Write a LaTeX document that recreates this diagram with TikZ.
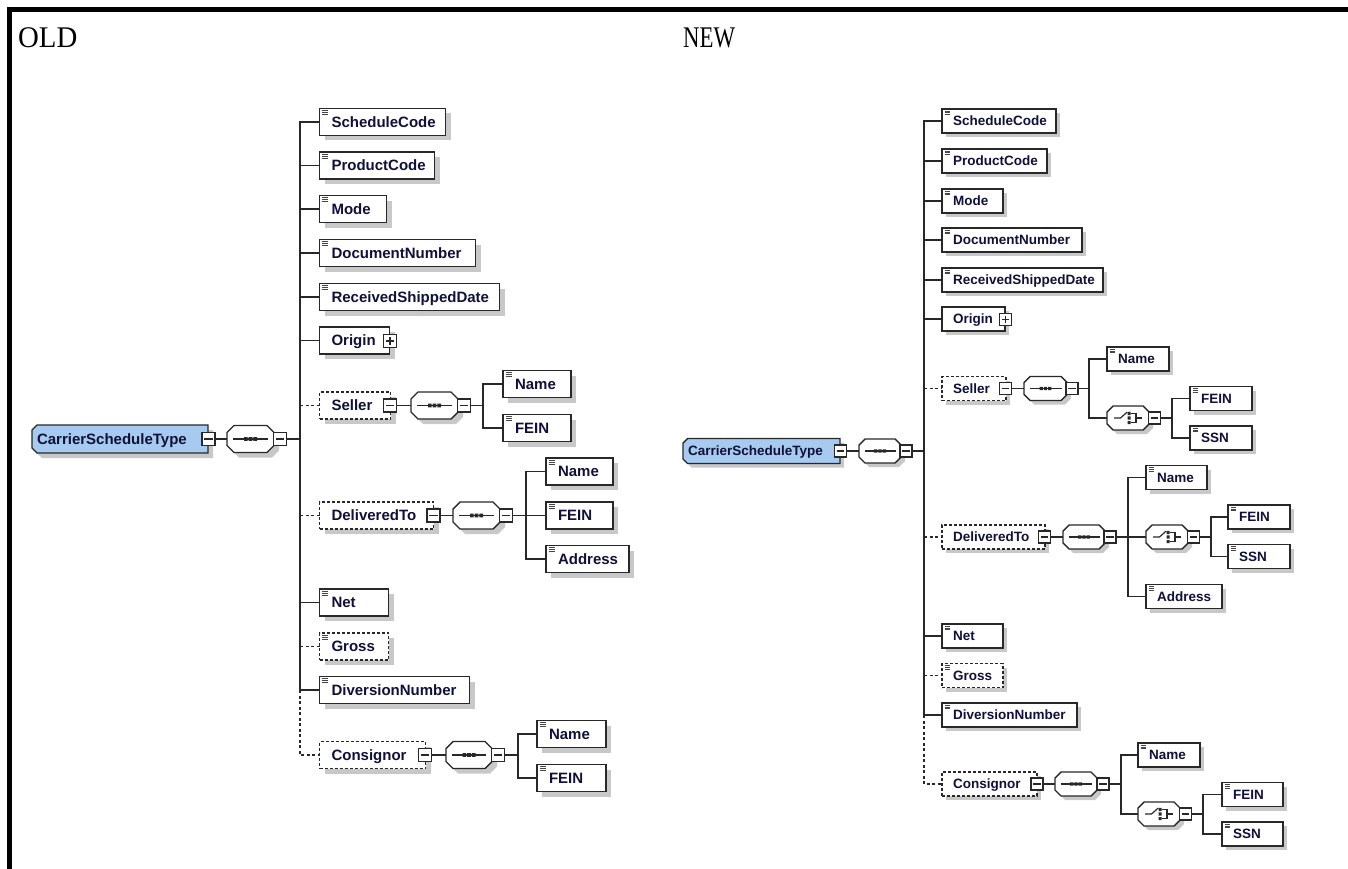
\documentclass[tikz,border=0pt]{standalone}
\usepackage{fontspec}
\newfontfamily\elfont{Liberation Sans}
\newfontfamily\ttlfont{Liberation Serif}
\usetikzlibrary{shadows}
\definecolor{rootblue}{RGB}{166,202,240}
\definecolor{shadowc}{RGB}{200,200,200}
\definecolor{linec}{RGB}{40,40,40}
\definecolor{iconc}{RGB}{70,70,70}
\definecolor{textc}{RGB}{16,16,56}
\tikzset{
 boxln/.style={draw=linec, line width=1.4pt},
 elO/.style={boxln, fill=white, anchor=west, inner sep=0pt, outer sep=0pt, minimum height=27pt,
   drop shadow={shadow xshift=5pt, shadow yshift=-5pt, fill=shadowc, opacity=1}},
 elN/.style={boxln, fill=white, anchor=west, inner sep=0pt, outer sep=0pt, minimum height=24pt,
   drop shadow={shadow xshift=4pt, shadow yshift=-4pt, fill=shadowc, opacity=1}},
 octO/.style={anchor=west, inner sep=0pt, outer sep=0pt, minimum height=27pt},
 octN/.style={anchor=west, inner sep=0pt, outer sep=0pt, minimum height=24pt},
 rootO/.style={anchor=west, inner sep=0pt, outer sep=0pt, minimum height=28pt},
 rootN/.style={anchor=west, inner sep=0pt, outer sep=0pt, minimum height=25pt},
 mbO/.style={draw=linec, line width=1.1pt, fill=white, inner sep=0pt, outer sep=0pt, minimum size=13pt},
 mbN/.style={draw=linec, line width=1.1pt, fill=white, inner sep=0pt, outer sep=0pt, minimum size=12pt},
 signln/.style={draw=linec, line width=1.1pt},
 iconln/.style={draw=iconc, line width=0.8pt},
 opt/.style={dash pattern=on 3pt off 2pt},
 conn/.style={draw=linec, line width=1.5pt},
 optconn/.style={conn, dash pattern=on 3pt off 2.5pt},
 txtO/.style={font=\elfont\bfseries\fontsize{15pt}{18pt}\selectfont, text=textc, inner sep=0pt, outer sep=0pt, anchor=base west},
 txtN/.style={font=\elfont\bfseries\fontsize{13.5pt}{16pt}\selectfont, text=textc, inner sep=0pt, outer sep=0pt, anchor=base west},
 tsO/.style={xshift=12pt, yshift=-5.4pt},
 tsN/.style={xshift=11pt, yshift=-4.8pt},
 ttl/.style={font=\ttlfont\fontsize{30pt}{36pt}\selectfont, inner sep=0pt, anchor=base west},
}
% element box: name, x, cy, width, text, O/N, extra style
\newcommand\El[7]{%
  \node[el#6,#7,minimum width=#4pt] (#1) at (#2,#3) {};%
  \node[txt#6,ts#6] (#1t) at (#1.west) {#5};%
}
\newcommand\IcO[1]{\draw[iconln] ([shift={(2.5pt,-2.2pt)}]#1.north west) -- ++(6pt,0pt)
  ([shift={(2.5pt,-4.2pt)}]#1.north west) -- ++(6pt,0pt)
  ([shift={(2.5pt,-6.2pt)}]#1.north west) -- ++(6pt,0pt);}
\newcommand\IcN[1]{\draw[iconln] ([shift={(2.5pt,-2pt)}]#1.north west) -- ++(5.5pt,0pt)
  ([shift={(2.5pt,-3.9pt)}]#1.north west) -- ++(5.5pt,0pt)
  ([shift={(2.5pt,-5.8pt)}]#1.north west) -- ++(5.5pt,0pt);}
\newcommand\Es[6]{\El{#1}{#2}{#3}{#4}{#5}{#6}{}\csname Ic#6\endcsname{#1}}
\newcommand\Eso[6]{\El{#1}{#2}{#3}{#4}{#5}{#6}{opt}\csname Ic#6\endcsname{#1}}
% minus / plus boxes
\newcommand\Mb[4]{\node[#4] (#1) at (#2,#3) {};\draw[signln] ([xshift=2.2pt]#1.west) -- ([xshift=-2.2pt]#1.east);}
\newcommand\Pb[4]{\node[#4] (#1) at (#2,#3) {};\draw[signln] ([xshift=2.2pt]#1.west) -- ([xshift=-2.2pt]#1.east)
  ([yshift=2.2pt]#1.south) -- ([yshift=-2.2pt]#1.north);}
% octagon outline
\newcommand\octpath[2]{([xshift=#2]#1.north west) -- ([xshift=-#2]#1.north east) -- ([yshift=-#2]#1.north east) -- ([yshift=#2]#1.south east) -- ([xshift=-#2]#1.south east) -- ([xshift=#2]#1.south west) -- ([yshift=#2]#1.south west) -- ([yshift=-#2]#1.north west) -- cycle}
\newcommand\rootpath[2]{([xshift=#2]#1.north west) -- (#1.north east) -- (#1.south east) -- ([xshift=#2]#1.south west) -- ([yshift=#2]#1.south west) -- ([yshift=-#2]#1.north west) -- cycle}
\newcommand\Oct[8]{%
  \node[#5, minimum width=#4pt] (#1) at (#2,#3) {};%
  \fill[shadowc, transform canvas={shift={(#6pt,-#6pt)}}] \octpath{#1}{#7pt};%
  \filldraw[boxln, fill=white] \octpath{#1}{#7pt};%
  #8{#1}%
}
\newcommand\SeqO[1]{\draw[boxln] ([xshift=6pt]#1.west) -- ([xshift=-6pt]#1.east);
 \fill[linec] ([shift={(-6.5pt,-1.8pt)}]#1.center) rectangle ([shift={(-2.9pt,1.8pt)}]#1.center)
  ([shift={(-1.8pt,-1.8pt)}]#1.center) rectangle ([shift={(1.8pt,1.8pt)}]#1.center)
  ([shift={(2.9pt,-1.8pt)}]#1.center) rectangle ([shift={(6.5pt,1.8pt)}]#1.center);}
\newcommand\SeqN[1]{\draw[boxln, line width=1.3pt] ([xshift=5.5pt]#1.west) -- ([xshift=-5.5pt]#1.east);
 \fill[linec] ([shift={(-5.8pt,-1.6pt)}]#1.center) rectangle ([shift={(-2.6pt,1.6pt)}]#1.center)
  ([shift={(-1.6pt,-1.6pt)}]#1.center) rectangle ([shift={(1.6pt,1.6pt)}]#1.center)
  ([shift={(2.6pt,-1.6pt)}]#1.center) rectangle ([shift={(5.8pt,1.6pt)}]#1.center);}
\newcommand\ChN[1]{%
 \draw[boxln, line width=1.2pt] ([xshift=-14pt]#1.center) -- ([xshift=-7.5pt]#1.center) -- ([shift={(-0.8pt,6pt)}]#1.center);
 \fill[linec] ([shift={(-0.5pt,3pt)}]#1.center) rectangle ([shift={(2.7pt,6.2pt)}]#1.center)
   ([shift={(-0.5pt,-1.6pt)}]#1.center) rectangle ([shift={(2.7pt,1.6pt)}]#1.center)
   ([shift={(-0.5pt,-6.2pt)}]#1.center) rectangle ([shift={(2.7pt,-3pt)}]#1.center);
 \draw[boxln, line width=1.2pt] ([shift={(2.7pt,4.6pt)}]#1.center) -- ([shift={(8pt,4.6pt)}]#1.center) -- ([shift={(8pt,-4.6pt)}]#1.center) -- ([shift={(2.7pt,-4.6pt)}]#1.center)
   ([shift={(8pt,0pt)}]#1.center) -- ([shift={(14pt,0pt)}]#1.center);
}
\begin{document}
\begin{tikzpicture}[x=1pt,y=-1pt]
\useasboundingbox (0,0) rectangle (1348,869);
% frame
\draw[line width=4.2pt, black, line join=miter] (9.5,869) -- (9.5,9.5) -- (1348,9.5);
% titles
\node[ttl] (tOld) at (18,48) {\scalebox{0.96}[1]{OLD}};
\node[ttl] (tNew) at (683,48) {\scalebox{0.76}[1]{NEW}};

%================ OLD =================
\node[rootO, minimum width=176pt] (oRoot) at (32,439) {};
\fill[shadowc, transform canvas={shift={(5pt,-5pt)}}] \rootpath{oRoot}{5pt};
\filldraw[boxln, fill=rootblue] \rootpath{oRoot}{5pt};
\node[txtO, xshift=5pt, yshift=-5.4pt] (oRoott) at (oRoot.west) {CarrierScheduleType};
\Mb{oRootM}{208.5}{439}{mbO}
\Oct{oRootS}{227}{439}{47}{octO}{5}{7}{\SeqO}
\Mb{oRootSM}{280}{439}{mbO}
\coordinate (oBar) at (300,439);

\Es{oSched}{319.5}{122}{126}{ScheduleCode}{O}
\Es{oProd}{319.5}{165.5}{115}{ProductCode}{O}
\Es{oMode}{319.5}{209}{67}{Mode}{O}
\Es{oDoc}{319.5}{253}{156}{DocumentNumber}{O}
\Es{oRecv}{319.5}{297}{180}{ReceivedShippedDate}{O}
\El{oOrig}{319.5}{340.5}{70}{Origin}{O}{}
\Pb{oOrigP}{390}{341}{mbO}

\El{oSel}{319.5}{405.5}{71}{Seller}{O}{opt}
\Mb{oSelM}{390}{405.5}{mbO}
\Oct{oSelSq}{411}{405.5}{47}{octO}{5}{7}{\SeqO}
\Mb{oSelSM}{464}{405.5}{mbO}
\coordinate (oSelBar) at (483,405.5);
\Es{oSelName}{503}{384}{68}{Name}{O}
\Es{oSelFein}{503}{428}{68}{FEIN}{O}

\El{oDel}{319.5}{515.5}{114}{DeliveredTo}{O}{opt}
\Mb{oDelM}{433.5}{515.5}{mbO}
\Oct{oDelSq}{453}{515.5}{47}{octO}{5}{7}{\SeqO}
\Mb{oDelSM}{506}{515.5}{mbO}
\coordinate (oDelBar) at (526,515.5);
\Es{oDelName}{546}{471.5}{67}{Name}{O}
\Es{oDelFein}{546}{515.5}{67}{FEIN}{O}
\Es{oDelAddr}{546}{559}{83}{Address}{O}

\Es{oNet}{319.5}{602.5}{69}{Net}{O}
\Eso{oGross}{319.5}{646.5}{69}{Gross}{O}
\Es{oDiv}{319.5}{690}{150}{DiversionNumber}{O}

\El{oCons}{319.5}{755}{106}{Consignor}{O}{opt}
\Mb{oConsM}{425}{755}{mbO}
\Oct{oConSq}{446}{755}{46}{octO}{5}{7}{\SeqO}
\Mb{oConSM}{498}{755}{mbO}
\coordinate (oConBar) at (518,755);
\Es{oConName}{537}{734}{69}{Name}{O}
\Es{oConFein}{537}{778}{69}{FEIN}{O}

% OLD connectors
\draw[conn] (oRootM.east) -- (oRootS.west);
\draw[conn] (oRootSM.east) -- (oBar);
\draw[conn] (oSched.west) -| (oDiv.west -| oBar);
\draw[optconn] (oDiv.west -| oBar) |- (oCons.west);
\foreach \n in {oProd,oMode,oDoc,oRecv,oOrig,oNet,oDiv}{\draw[conn] (\n.west -| oBar) -- (\n.west);}
\foreach \n in {oSel,oDel,oGross}{\draw[optconn] (\n.west -| oBar) -- (\n.west);}
\draw[conn] (oSelM.east) -- (oSelSq.west);
\draw[conn] (oSelSM.east) -- (oSelBar);
\draw[conn] (oSelName.west) -| (oSelBar) |- (oSelFein.west);
\draw[conn] (oDelM.east) -- (oDelSq.west);
\draw[conn] (oDelSM.east) -- (oDelFein.west);
\draw[conn] (oDelName.west) -| (oDelBar) |- (oDelAddr.west);
\draw[conn] (oConsM.east) -- (oConSq.west);
\draw[conn] (oConSM.east) -- (oConBar);
\draw[conn] (oConName.west) -| (oConBar) |- (oConFein.west);

%================ NEW =================
\node[rootN, minimum width=157pt] (nRoot) at (683,451) {};
\fill[shadowc, transform canvas={shift={(4pt,-4pt)}}] \rootpath{nRoot}{4.5pt};
\filldraw[boxln, fill=rootblue] \rootpath{nRoot}{4.5pt};
\node[txtN, xshift=5pt, yshift=-4.8pt] (nRoott) at (nRoot.west) {CarrierScheduleType};
\Mb{nRootM}{840.5}{451}{mbN}
\Oct{nRootSq}{859}{451}{42}{octN}{4}{6}{\SeqN}
\Mb{nRootSM}{906}{451}{mbN}
\coordinate (nBar) at (924,451);

\Es{nSched}{942}{121}{114}{ScheduleCode}{N}
\Es{nProd}{942}{161}{105}{ProductCode}{N}
\Es{nMode}{942}{201}{61}{Mode}{N}
\Es{nDoc}{942}{240}{140}{DocumentNumber}{N}
\Es{nRecv}{942}{280}{161}{ReceivedShippedDate}{N}
\El{nOrig}{942}{319}{63}{Origin}{N}{}
\Pb{nOrigP}{1005.5}{319.5}{mbN}

\El{nSel}{942}{388.5}{64}{Seller}{N}{opt}
\Mb{nSelM}{1005.5}{388.5}{mbN}
\Oct{nSelSq}{1024}{388.5}{43}{octN}{4}{6}{\SeqN}
\Mb{nSelSM}{1072}{388.5}{mbN}
\coordinate (nSelBar) at (1089,388.5);
\Es{nSelName}{1107}{359}{62}{Name}{N}
\Oct{nSelCh}{1107}{418}{42}{octN}{4}{6}{\ChN}
\Mb{nSelChM}{1154.5}{418}{mbN}
\coordinate (nSelChBar) at (1172,418);
\Es{nSelFein}{1190}{398.5}{62}{FEIN}{N}
\Es{nSelSsn}{1190}{438}{62}{SSN}{N}

\El{nDel}{942}{537}{103}{DeliveredTo}{N}{opt}
\Mb{nDelM}{1044.5}{537}{mbN}
\Oct{nDelSq}{1063}{537}{42}{octN}{4}{6}{\SeqN}
\Mb{nDelSM}{1110}{537}{mbN}
\coordinate (nDelBar) at (1128,537);
\Es{nDelName}{1146}{477.5}{61}{Name}{N}
\Oct{nDelCh}{1146}{537}{42}{octN}{4}{6}{\ChN}
\Mb{nDelChM}{1193.5}{537}{mbN}
\coordinate (nDelChBar) at (1211,537);
\Es{nDelFein}{1228}{517}{62}{FEIN}{N}
\Es{nDelSsn}{1228}{556.5}{62}{SSN}{N}
\Es{nDelAddr}{1146}{596.5}{76}{Address}{N}

\Es{nNet}{942}{636}{61}{Net}{N}
\Eso{nGross}{942}{675.5}{61}{Gross}{N}
\Es{nDiv}{942}{715}{135}{DiversionNumber}{N}

\El{nCons}{942}{784}{95}{Consignor}{N}{opt}
\Mb{nConsM}{1037}{784}{mbN}
\Oct{nConSq}{1055}{784}{42}{octN}{4}{6}{\SeqN}
\Mb{nConSM}{1103}{784}{mbN}
\coordinate (nConBar) at (1121,784);
\Es{nConName}{1138}{755}{62}{Name}{N}
\Oct{nConCh}{1138}{814}{42}{octN}{4}{6}{\ChN}
\Mb{nConChM}{1185.5}{814}{mbN}
\coordinate (nConChBar) at (1203,814);
\Es{nConFein}{1222}{794.5}{61}{FEIN}{N}
\Es{nConSsn}{1222}{834}{61}{SSN}{N}

% NEW connectors
\draw[conn] (nRootM.east) -- (nRootSq.west);
\draw[conn] (nRootSM.east) -- (nBar);
\draw[conn] (nSched.west) -| (nDiv.west -| nBar);
\draw[optconn] (nDiv.west -| nBar) |- (nCons.west);
\foreach \n in {nProd,nMode,nDoc,nRecv,nOrig,nNet,nDiv}{\draw[conn] (\n.west -| nBar) -- (\n.west);}
\foreach \n in {nSel,nDel,nGross}{\draw[optconn] (\n.west -| nBar) -- (\n.west);}
\draw[conn] (nSelM.east) -- (nSelSq.west);
\draw[conn] (nSelSM.east) -- (nSelBar);
\draw[conn] (nSelName.west) -| (nSelBar) |- (nSelCh.west);
\draw[conn] (nSelChM.east) -- (nSelChBar);
\draw[conn] (nSelFein.west) -| (nSelChBar) |- (nSelSsn.west);
\draw[conn] (nDelM.east) -- (nDelSq.west);
\draw[conn] (nDelSM.east) -- (nDelCh.west);
\draw[conn] (nDelName.west) -| (nDelBar) |- (nDelAddr.west);
\draw[conn] (nDelChM.east) -- (nDelChBar);
\draw[conn] (nDelFein.west) -| (nDelChBar) |- (nDelSsn.west);
\draw[conn] (nConsM.east) -- (nConSq.west);
\draw[conn] (nConSM.east) -- (nConBar);
\draw[conn] (nConName.west) -| (nConBar) |- (nConCh.west);
\draw[conn] (nConChM.east) -- (nConChBar);
\draw[conn] (nConFein.west) -| (nConChBar) |- (nConSsn.west);
\end{tikzpicture}
\end{document}
